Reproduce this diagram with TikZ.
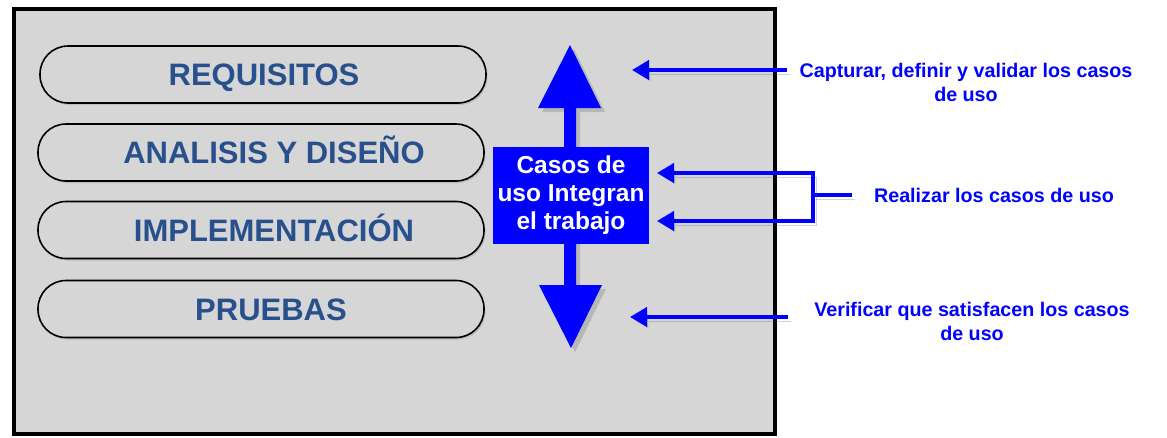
\documentclass[tikz,border=0pt]{standalone}
\usepackage{fontspec}
\setmainfont{Liberation Sans}
\usetikzlibrary{arrows.meta,shadows,calc}
\definecolor{panel}{HTML}{D6D6D6}
\definecolor{pilltext}{RGB}{40,80,140}
\definecolor{vivid}{HTML}{0000FF}
\begin{document}
\begin{tikzpicture}[x=1pt,y=-1pt,
  pill/.style={draw=black, line width=1.6pt, fill=panel, rounded corners=28pt,
    minimum width=446pt, minimum height=57pt, inner sep=0pt,
    drop shadow={shadow xshift=1.5pt, shadow yshift=-2pt, opacity=0.3}},
  pilllabel/.style={text=pilltext, inner sep=0pt,
    text height=22pt, text depth=0pt,
    font=\bfseries\fontsize{31}{37}\selectfont},
  casebox/.style={fill=vivid, text=white, minimum width=156pt, minimum height=97pt,
    inner sep=0pt, align=center, font=\bfseries\fontsize{24.5}{28}\selectfont},
  note/.style={text=vivid, align=center, inner sep=0pt,
    font=\bfseries\fontsize{19.7}{24}\selectfont},
  conn/.style={vivid, line width=4pt, -{Triangle[length=17pt,width=19pt]},
    preaction={draw=black!70, opacity=0.25, transform canvas={shift={(3pt,-4pt)}}}},
  plainline/.style={vivid, line width=4pt,
    preaction={draw=black!70, opacity=0.25, transform canvas={shift={(3pt,-4pt)}}}}
]
\useasboundingbox (0,0) rectangle (1167,437);
\fill[white] (0,0) rectangle (1167,437);
% panel
\draw[line width=4pt, fill=panel] (13.5,9) rectangle (775,434);
% phase pills
\node[pill, label={[pilllabel, xshift=1pt]center:REQUISITOS}] (req) at (263,74.5) {};
\node[pill, label={[pilllabel, xshift=13pt]center:ANALISIS Y DISEÑO}] (ana) at (261,152.5) {};
\node[pill, label={[pilllabel, xshift=13pt]center:IMPLEMENTACIÓN}] (imp) at (261,230) {};
\node[pill, label={[pilllabel, xshift=10pt]center:PRUEBAS}] (pru) at (261,309) {};
% double arrow
\fill[vivid, drop shadow={shadow xshift=4pt, shadow yshift=-4pt, opacity=0.35}]
  (570,45) -- (601,108) -- (576,108) -- (576,285) -- (602,285) -- (571,348)
  -- (539,285) -- (564,285) -- (564,108) -- (538,108) -- cycle;
\node[casebox] (casos) at (571,195.5) {Casos de\\uso Integran\\el trabajo};
% notes
\node[note] (t1) at (966,82) {Capturar, definir y validar los casos\\de uso};
\node[note] (t2) at (994,195) {Realizar los casos de uso};
\node[note] (t3) at (972,321.5) {Verificar que satisfacen los casos\\de uso};
% connectors
\coordinate (a1) at (632,70);
\coordinate (a2) at (657,173);
\coordinate (a3) at (657,221);
\coordinate (a4) at (630,317);
\coordinate (b) at (813,195);
\draw[conn] ($(a1 -| t1.west)+(-12,0)$) -- (a1);
\draw[plainline] ($(t2.west)+(-22,0)$) -- (b);
\draw[conn] (b) |- (a2);
\draw[conn] (b) |- (a3);
\draw[conn] ($(a4 -| t3.west)+(-26,0)$) -- (a4);
\end{tikzpicture}
\end{document}
